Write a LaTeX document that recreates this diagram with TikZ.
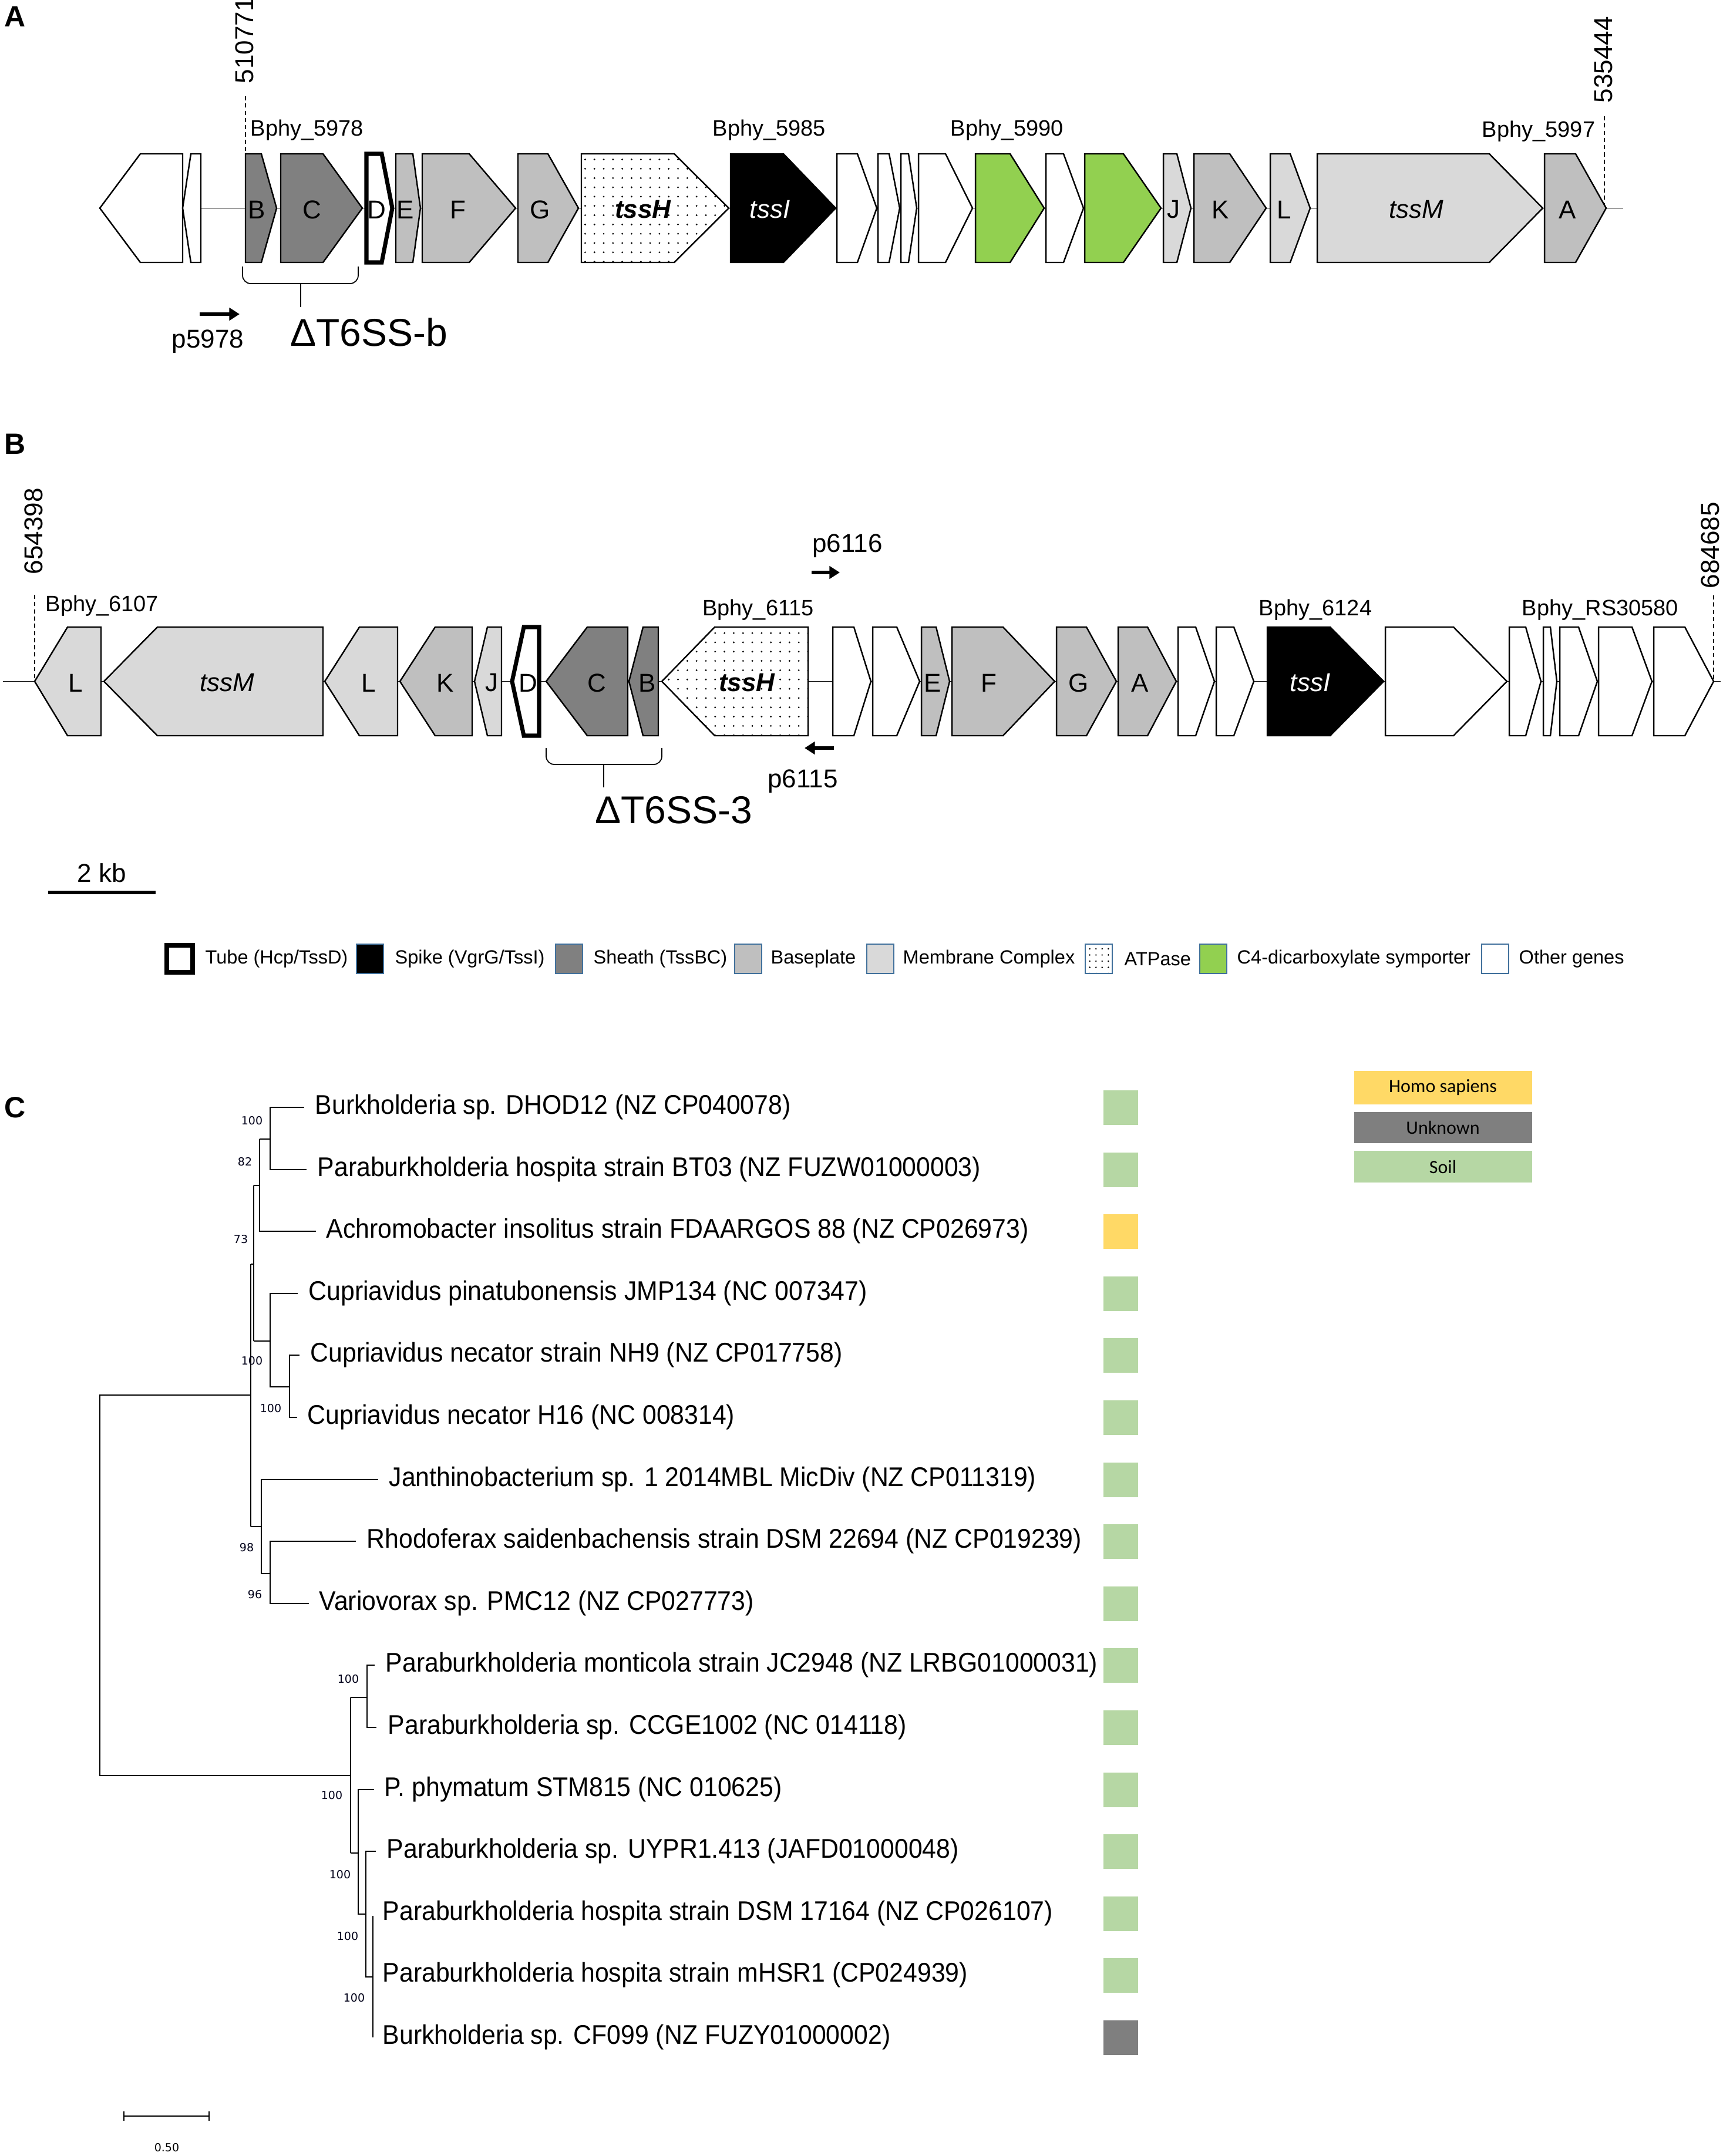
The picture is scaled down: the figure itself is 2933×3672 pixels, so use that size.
\documentclass[tikz,border=0pt]{standalone}
\usepackage{fontspec}
\setmainfont{Liberation Sans}
\newfontfamily\treefont[FakeStretch=0.93]{Liberation Sans}
\newfontfamily\bsfont{DejaVu Sans}
\newfontfamily\calfont{Carlito}
\usetikzlibrary{patterns.meta,arrows.meta}
\newcommand\fs[1]{\fontsize{\fpeval{#1*0.28453}pt}{\fpeval{#1*0.3414}pt}\selectfont}
\definecolor{gSheathC}{RGB}{128,128,128}
\definecolor{gBaseC}{RGB}{191,191,191}
\definecolor{gMembC}{RGB}{217,217,217}
\definecolor{gGreenC}{RGB}{146,208,80}
\definecolor{legBlue}{RGB}{65,113,156}
\definecolor{hsYellow}{RGB}{255,217,102}
\definecolor{unkGray}{RGB}{127,127,127}
\definecolor{soilGreen}{RGB}{182,215,164}
\tikzset{
  g/.style={draw=black, line width=0.7pt},
  gOther/.style={g, fill=white},
  gTube/.style={g, fill=white, line width=2pt},
  gSpike/.style={g, fill=black},
  gSheath/.style={g, fill=gSheathC},
  gBase/.style={g, fill=gBaseC},
  gMemb/.style={g, fill=gMembC},
  gAtp/.style={g, preaction={fill=white}, pattern={Dots[distance=4.5pt,radius=0.45pt]}},
  gC4/.style={g, fill=gGreenC},
  glab/.style={font=\fs{44}, inner sep=0},
  locus/.style={font=\fs{38}, inner sep=0},
  coord/.style={font=\fs{44}, inner sep=0, rotate=90, anchor=west},
  dashln/.style={dashed, line width=0.5pt, dash pattern=on 2pt off 1.5pt},
  backbone/.style={line width=0.5pt},
  primer/.style={line width=1.8pt, -{Triangle[length=5pt,width=6pt]}},
  brace/.style={line width=0.5pt, rounded corners=4pt},
  panel/.style={font=\bfseries\fs{50}, inner sep=0},
  legbox/.style={draw=legBlue, line width=0.8pt},
  legtxt/.style={font=\fs{32.5}, inner sep=0, anchor=west},
  tree/.style={line width=0.75pt},
  leaf/.style={font=\treefont\fs{46}, inner sep=0, anchor=west},
  boot/.style={font=\bsfont\fs{19}, inner sep=0, text=black!90!blue},
  sq/.style={inner sep=0, minimum width=59*0.1mm, minimum height=59*0.1mm},
  hostbox/.style={inner sep=0, minimum width=303*0.1mm, font=\calfont\fs{32}}
}
\newcommand\gene[4]{\draw[#4] (#1,\gtop) -- (#2,\gtop) -- (#3,\gmid) -- (#2,\gbot) -- (#1,\gbot) -- cycle;}
\begin{document}
\begin{tikzpicture}[x=0.1mm,y=-0.1mm]
\useasboundingbox (0,0) rectangle (2933,3672);
\fill[white] (0,0) rectangle (2933,3672);

% ================= Panel A =================
\node[panel] (labA) at (26,28) {A};
\def\gtop{262}\def\gbot{447}\def\gmid{354.5}
\coordinate (bbA1) at (311,354.5);
\coordinate (bbA2) at (2764,354.5);
\draw[backbone] (bbA1) -- (bbA2);
\coordinate (dA1a) at (418,164); \coordinate (dA1b) at (418,354.5);
\coordinate (dA2a) at (2732,198); \coordinate (dA2b) at (2732,354.5);
\draw[dashln] (dA1a) -- (dA1b);
\draw[dashln] (dA2a) -- (dA2b);
\node[coord] (cA1) at (416,143) {510771};
\node[coord] (cA2) at (2730,176) {535444};
\gene{311}{239}{170}{gOther}
\gene{342}{325}{311}{gOther}
\gene{418}{445}{471}{gSheath}
\gene{478}{550}{617}{gSheath}
\gene{624}{650}{668}{gTube}
\gene{674}{703}{716}{gBase}
\gene{719}{799}{878}{gBase}
\gene{882}{933}{985}{gBase}
\gene{990}{1148}{1241}{gAtp}
\gene{1244}{1334}{1423}{gSpike}
\gene{1425}{1460}{1493}{gOther}
\gene{1495}{1514}{1532}{gOther}
\gene{1534}{1547}{1561}{gOther}
\gene{1564}{1610}{1656}{gOther}
\gene{1661}{1720}{1778}{gC4}
\gene{1781}{1811}{1845}{gOther}
\gene{1847}{1913}{1977}{gC4}
\gene{1981}{2004}{2028}{gMemb}
\gene{2033}{2094}{2156}{gBase}
\gene{2163}{2197}{2231}{gMemb}
\gene{2243}{2536}{2627}{gMemb}
\gene{2630}{2683}{2735}{gBase}
\node[glab] (aB) at (437,357) {B};
\node[glab] (aC) at (531,357) {C};
\node[glab] (aD) at (641,357) {D};
\node[glab] (aE) at (690,357) {E};
\node[glab] (aF) at (780,357) {F};
\node[glab] (aG) at (920,357) {G};
\node[glab, font=\fs{44}\bfseries\itshape] (aH) at (1095,357) {tssH};
\node[glab, font=\fs{44}\itshape, text=white] (aI) at (1311,357) {tssI};
\node[glab] (aJ) at (1998,357) {J};
\node[glab] (aK) at (2078,357) {K};
\node[glab] (aL) at (2187,357) {L};
\node[glab, font=\fs{44}\itshape] (aM) at (2412,357) {tssM};
\node[glab] (aA) at (2669,357) {A};
\node[locus, anchor=west] (lA1) at (426,222) {Bphy\_5978};
\node[locus] (lA2) at (1310,222) {Bphy\_5985};
\node[locus] (lA3) at (1715,222) {Bphy\_5990};
\node[locus] (lA4) at (2620,224) {Bphy\_5997};
% brace A
\draw[brace] (413,454) -- (413,483) -- (610,483) -- (610,454);
\coordinate (brA1) at (512,483); \coordinate (brA2) at (512,523);
\draw[line width=0.5pt] (brA1) -- (brA2);
\node[font=\fs{66}, inner sep=0] (delA) at (628,566) {ΔT6SS-b};
\coordinate (pA1) at (340,535); \coordinate (pA2) at (408,535);
\draw[primer] (pA1) -- (pA2);
\node[font=\fs{44}, inner sep=0] (p5978) at (354,582) {p5978};

% ================= Panel B =================
\node[panel] (labB) at (26,756) {B};
\def\gtop{1068}\def\gbot{1253}\def\gmid{1160.5}
\coordinate (bbB1) at (5,1160.5);
\coordinate (bbB2) at (2930,1160.5);
\draw[backbone] (bbB1) -- (bbB2);
\coordinate (dB1a) at (59,1013); \coordinate (dB1b) at (59,1160.5);
\coordinate (dB2a) at (2918,1014); \coordinate (dB2b) at (2918,1160.5);
\draw[dashln] (dB1a) -- (dB1b);
\draw[dashln] (dB2a) -- (dB2b);
\node[coord] (cB1) at (57,979) {654398};
\node[coord] (cB2) at (2912,1003) {684685};
\gene{172}{115}{59}{gMemb}
\gene{550}{268}{177}{gMemb}
\gene{677}{612}{553}{gMemb}
\gene{804}{741}{681}{gBase}
\gene{854}{830}{808}{gMemb}
\gene{918}{892}{872}{gTube}
\gene{1069}{1000}{930}{gSheath}
\gene{1121}{1095}{1071}{gSheath}
\gene{1376}{1217}{1127}{gAtp}
\gene{1418}{1454}{1483}{gOther}
\gene{1486}{1527}{1566}{gOther}
\gene{1569}{1594}{1617}{gBase}
\gene{1621}{1708}{1796}{gBase}
\gene{1799}{1850}{1901}{gBase}
\gene{1904}{1954}{2003}{gBase}
\gene{2006}{2036}{2068}{gOther}
\gene{2071}{2101}{2135}{gOther}
\gene{2158}{2265}{2356}{gSpike}
\gene{2359}{2475}{2566}{gOther}
\gene{2570}{2598}{2624}{gOther}
\gene{2628}{2640}{2651}{gOther}
\gene{2656}{2688}{2720}{gOther}
\gene{2722}{2779}{2813}{gOther}
\gene{2816}{2869}{2918}{gOther}
\node[glab] (bL1) at (129,1163) {L};
\node[glab, font=\fs{44}\itshape] (bM) at (387,1163) {tssM};
\node[glab] (bL2) at (628,1163) {L};
\node[glab] (bK) at (758,1163) {K};
\node[glab] (bJ) at (837,1163) {J};
\node[glab] (bD) at (899,1163) {D};
\node[glab] (bC) at (1016,1163) {C};
\node[glab] (bB) at (1102,1163) {B};
\node[glab, font=\fs{44}\bfseries\itshape] (bH) at (1272,1163) {tssH};
\node[glab] (bE) at (1588,1163) {E};
\node[glab] (bF) at (1684,1163) {F};
\node[glab] (bG) at (1837,1163) {G};
\node[glab] (bA) at (1941,1163) {A};
\node[glab, font=\fs{44}\itshape, text=white] (bI) at (2231,1163) {tssI};
\node[locus, anchor=west] (lB1) at (77,1032) {Bphy\_6107};
\node[locus] (lB2) at (1291,1039) {Bphy\_6115};
\node[locus] (lB3) at (2240,1039) {Bphy\_6124};
\node[locus] (lB4) at (2725,1039) {Bphy\_RS30580};
% brace B
\draw[brace] (930,1274) -- (930,1302) -- (1127,1302) -- (1127,1274);
\coordinate (brB1) at (1028,1302); \coordinate (brB2) at (1028,1341);
\draw[line width=0.5pt] (brB1) -- (brB2);
\node[font=\fs{66}, inner sep=0] (delB) at (1147,1380) {ΔT6SS-3};
\coordinate (pB1) at (1382,975); \coordinate (pB2) at (1430,975);
\draw[primer] (pB1) -- (pB2);
\node[font=\fs{44}, inner sep=0] (p6116) at (1443,930) {p6116};
\coordinate (pB3) at (1420,1274); \coordinate (pB4) at (1370,1274);
\draw[primer] (pB3) -- (pB4);
\node[font=\fs{44}, inner sep=0] (p6115) at (1367,1331) {p6115};
% scale bar
\coordinate (sb1) at (82,1520); \coordinate (sb2) at (265,1520);
\draw[line width=1.6pt] (sb1) -- (sb2);
\node[font=\fs{44}, inner sep=0] (kb) at (173,1487) {2 kb};

% ================= Legend =================
\def\ly{1633}
\node[draw=black, line width=2.2pt, fill=white, minimum width=44*0.1mm, minimum height=46*0.1mm, inner sep=0] (lg1) at (306,\ly) {};
\node[legtxt] (lt1) at (349,\ly) {Tube (Hcp/TssD)};
\node[legbox, fill=black, minimum width=46*0.1mm, minimum height=50*0.1mm, inner sep=0] (lg2) at (630,\ly) {};
\node[legtxt] (lt2) at (672,\ly) {Spike (VgrG/TssI)};
\node[legbox, fill=gSheathC, minimum width=46*0.1mm, minimum height=50*0.1mm, inner sep=0] (lg3) at (969,\ly) {};
\node[legtxt] (lt3) at (1010,\ly) {Sheath (TssBC)};
\node[legbox, fill=gBaseC, minimum width=46*0.1mm, minimum height=50*0.1mm, inner sep=0] (lg4) at (1274,\ly) {};
\node[legtxt] (lt4) at (1312,\ly) {Baseplate};
\node[legbox, fill=gMembC, minimum width=46*0.1mm, minimum height=50*0.1mm, inner sep=0] (lg5) at (1499,\ly) {};
\node[legtxt] (lt5) at (1537,\ly) {Membrane Complex};
\node[legbox, preaction={fill=white}, pattern={Dots[distance=3pt,radius=0.4pt]}, minimum width=46*0.1mm, minimum height=50*0.1mm, inner sep=0] (lg6) at (1871,\ly) {};
\node[legtxt] (lt6) at (1914,\ly) {ATPase};
\node[legbox, fill=gGreenC, minimum width=46*0.1mm, minimum height=50*0.1mm, inner sep=0] (lg7) at (2066,\ly) {};
\node[legtxt] (lt7) at (2106,\ly) {C4-dicarboxylate symporter};
\node[legbox, fill=white, minimum width=46*0.1mm, minimum height=50*0.1mm, inner sep=0] (lg8) at (2546,\ly) {};
\node[legtxt] (lt8) at (2586,\ly) {Other genes};

% ================= Panel C =================
\node[panel] (labC) at (26,1886) {C};
% rows
\def\ra{1886}\def\rb{1992}\def\rc{2097}\def\rd{2203}\def\re{2308}\def\rf{2414}
\def\rg{2520}\def\rh{2625}\def\ri{2731}\def\rj{2836}\def\rk{2942}\def\rl{3048}
\def\rm{3153}\def\rn{3259}\def\ro{3364}\def\rp{3470}
\node[leaf] (t1) at (536,\ra) {Burkholderia sp. DHOD12 (NZ CP040078)};
\node[leaf] (t2) at (540,\rb) {Paraburkholderia hospita strain BT03 (NZ FUZW01000003)};
\node[leaf] (t3) at (555,\rc) {Achromobacter insolitus strain FDAARGOS 88 (NZ CP026973)};
\node[leaf] (t4) at (525,\rd) {Cupriavidus pinatubonensis JMP134 (NC 007347)};
\node[leaf] (t5) at (528,\re) {Cupriavidus necator strain NH9 (NZ CP017758)};
\node[leaf] (t6) at (523,\rf) {Cupriavidus necator H16 (NC 008314)};
\node[leaf] (t7) at (662,\rg) {Janthinobacterium sp. 1 2014MBL MicDiv (NZ CP011319)};
\node[leaf] (t8) at (624,\rh) {Rhodoferax saidenbachensis strain DSM 22694 (NZ CP019239)};
\node[leaf] (t9) at (543,\ri) {Variovorax sp. PMC12 (NZ CP027773)};
\node[leaf] (t10) at (656,\rj) {Paraburkholderia monticola strain JC2948 (NZ LRBG01000031)};
\node[leaf] (t11) at (660,\rk) {Paraburkholderia sp. CCGE1002 (NC 014118)};
\node[leaf] (t12) at (654,\rl) {P. phymatum STM815 (NC 010625)};
\node[leaf] (t13) at (658,\rm) {Paraburkholderia sp. UYPR1.413 (JAFD01000048)};
\node[leaf] (t14) at (651,\rn) {Paraburkholderia hospita strain DSM 17164 (NZ CP026107)};
\node[leaf] (t15) at (651,\ro) {Paraburkholderia hospita strain mHSR1 (CP024939)};
\node[leaf] (t16) at (651,\rp) {Burkholderia sp. CF099 (NZ FUZY01000002)};
% tree edges
\draw[tree] (427,2376) -- (170,2376) -- (170,3024) -- (597,3024);
% upper clade
\draw[tree] (427,2153) -- (427,2600);
\draw[tree] (427,2153) -- (432,2153);
\draw[tree] (432,2019) -- (432,2284);
\draw[tree] (432,2019) -- (442,2019);
\draw[tree] (442,1940) -- (442,\rc) -- (538,\rc);
\draw[tree] (442,1940) -- (460,1940);
\draw[tree] (518,\ra) -- (460,\ra) -- (460,\rb) -- (522,\rb);
\draw[tree] (432,2284) -- (460,2284);
\draw[tree] (507,\rd) -- (460,\rd) -- (460,2362) -- (493,2362);
\draw[tree] (510,\re) -- (493,\re) -- (493,\rf) -- (506,\rf);
\draw[tree] (427,2600) -- (445,2600);
\draw[tree] (644,\rg) -- (445,\rg) -- (445,2680) -- (460,2680);
\draw[tree] (606,\rh) -- (460,\rh) -- (460,\ri) -- (526,\ri);
% lower clade
\draw[tree] (597,2891) -- (597,3156);
\draw[tree] (597,2891) -- (625,2891);
\draw[tree] (638,\rj) -- (625,\rj) -- (625,\rk) -- (641,\rk);
\draw[tree] (597,3156) -- (610,3156);
\draw[tree] (637,\rl) -- (610,\rl) -- (610,3260) -- (623,3260);
\draw[tree] (640,\rm) -- (623,\rm) -- (623,3367) -- (635,3367);
\draw[tree] (635,3263) -- (635,3470);
% bootstrap values
\node[boot] (b1) at (429,1909) {100};
\node[boot] (b2) at (417,1979) {82};
\node[boot] (b3) at (410,2111) {73};
\node[boot] (b4) at (429,2318) {100};
\node[boot] (b5) at (461,2399) {100};
\node[boot] (b6) at (420,2636) {98};
\node[boot] (b7) at (434,2716) {96};
\node[boot] (b8) at (593,2860) {100};
\node[boot] (b9) at (565,3058) {100};
\node[boot] (b10) at (579,3193) {100};
\node[boot] (b11) at (592,3298) {100};
\node[boot] (b12) at (603,3403) {100};
% host squares
\foreach \r/\c [count=\i] in {\ra/soilGreen,\rb/soilGreen,\rc/hsYellow,\rd/soilGreen,\re/soilGreen,\rf/soilGreen,\rg/soilGreen,\rh/soilGreen,\ri/soilGreen,\rj/soilGreen,\rk/soilGreen,\rl/soilGreen,\rm/soilGreen,\rn/soilGreen,\ro/soilGreen,\rp/unkGray}
  \node[sq, fill=\c] (sq\i) at (1908,\r) {};
% host legend
\node[hostbox, fill=hsYellow, minimum height=57*0.1mm] (hs) at (2457,1852) {Homo sapiens};
\node[hostbox, fill=unkGray, minimum height=53*0.1mm] (unk) at (2457,1920) {Unknown};
\node[hostbox, fill=soilGreen, minimum height=54*0.1mm] (soil) at (2457,1987) {Soil};
% tree scale
\coordinate (ts1) at (211,3604); \coordinate (ts2) at (356,3604);
\draw[tree] (ts1) -- (ts2);
\draw[tree] (211,3596) -- (211,3612);
\draw[tree] (356,3596) -- (356,3612);
\node[boot, text=black] (tsl) at (284,3658) {0.50};
\end{tikzpicture}
\end{document}
